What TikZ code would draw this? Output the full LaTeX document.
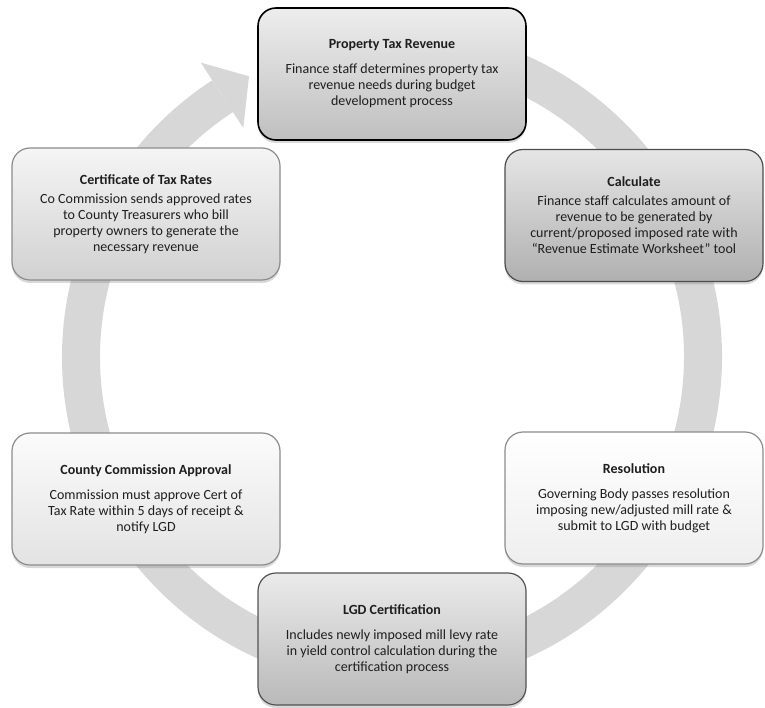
\documentclass[tikz,border=0pt]{standalone}
\usepackage{fontspec}
\setmainfont{Carlito}
\usepackage{tikz}
\usetikzlibrary{positioning,shadows}

\definecolor{ringgray}{HTML}{D7D7D7}
\definecolor{edgegray}{HTML}{8C8C8C}
\definecolor{inkgray}{HTML}{1E1E1E}

\begin{document}
\begin{tikzpicture}[x=1pt,y=1pt,on grid,text=inkgray,
                    font=\fontsize{14}{16}\selectfont]

  \tikzstyle{stage}=[draw=edgegray, line width=1.2pt, rounded corners=18pt,
                     minimum width=268pt, minimum height=132pt, align=center,
                     drop shadow={shadow xshift=0pt,shadow yshift=-3pt,opacity=0.3}]

  \useasboundingbox (0,0) rectangle (765,-708);
  \coordinate (hub) at (392,-357);

  % the cycle arrow behind the boxes
  \draw[ringgray, line width=38pt] ([shift={(85:311)}]hub)
        arc[start angle=85, end angle=-237, radius=311];
  \fill[ringgray, shift={(hub)}] (123:351) -- (117:315) -- (123:273) -- cycle;

  \node[stage, draw=black, line width=1.6pt, top color=gray!14, bottom color=gray!50]
        (ptr) at (392,-74)
        {\textbf{Property Tax Revenue}\\[9pt]
         Finance staff determines property tax\\
         revenue needs during budget\\
         development process};
  \node[stage, draw=gray!60!black, minimum width=258pt, top color=gray!20, bottom color=gray!62]
        (calc) [below right=141.5pt and 242pt of ptr]
        {\textbf{Calculate}\\[3pt]
         Finance staff calculates amount of\\
         revenue to be generated by\\
         current/proposed imposed rate with\\
         “Revenue Estimate Worksheet” tool};
  \node[stage, minimum width=258pt, top color=white, bottom color=gray!13]
        (resol) [below=282.5pt of calc]
        {\textbf{Resolution}\\[9pt]
         Governing Body passes resolution\\
         imposing new/adjusted mill rate \&\\
         submit to LGD with budget};
  \node[stage, draw=gray!65!black, top color=gray!16, bottom color=gray!55]
        (lgd) [below=565pt of ptr]
        {\textbf{LGD Certification}\\[9pt]
         Includes newly imposed mill levy rate\\
         in yield control calculation during the\\
         certification process};
  \node[stage, below left=140pt and 246pt of ptr, top color=gray!8, bottom color=gray!36]
        (cert)
        {\textbf{Certificate of Tax Rates}\\[3pt]
         Co Commission sends approved rates\\
         to County Treasurers who bill\\
         property owners to generate the\\
         necessary revenue};
  \node[stage, top color=gray!3, bottom color=gray!22]
        (county) [below=285pt of cert]
        {\textbf{County Commission Approval}\\[9pt]
         Commission must approve Cert of\\
         Tax Rate within 5 days of receipt \&\\
         notify LGD};
\end{tikzpicture}
\end{document}
